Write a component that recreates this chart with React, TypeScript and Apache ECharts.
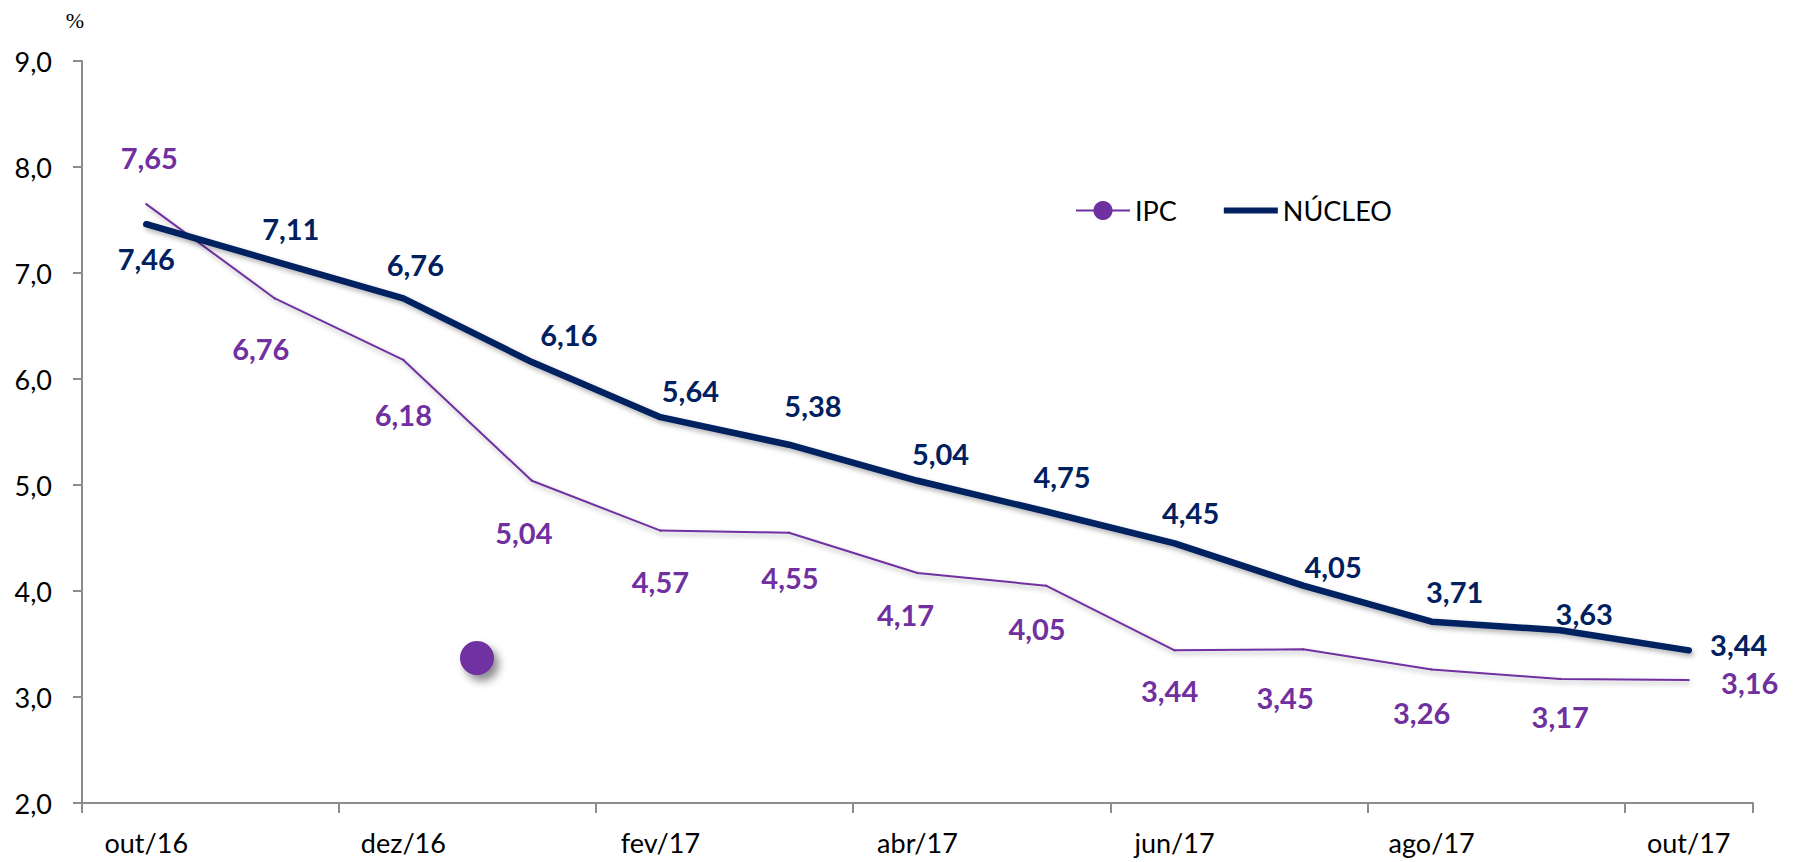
import React, { useEffect, useRef } from 'react';
import * as echarts from 'echarts';

const categories = ['out/16', 'nov/16', 'dez/16', 'jan/17', 'fev/17', 'mar/17', 'abr/17', 'mai/17', 'jun/17', 'jul/17', 'ago/17', 'set/17', 'out/17'];
const ipcValues = [7.65, 6.76, 6.18, 5.04, 4.57, 4.55, 4.17, 4.05, 3.44, 3.45, 3.26, 3.17, 3.16];
const nucleoValues = [7.46, 7.11, 6.76, 6.16, 5.64, 5.38, 5.04, 4.75, 4.45, 4.05, 3.71, 3.63, 3.44];
const yMin = 2;
const yMax = 9;
const yStep = 1;

// label placement (pixel offsets of each value label from its point)
const ipcLabelOffsets = [[3, -47], [-14, 50], [0, 55], [-8, 52], [0, 51], [1, 45], [-12, 42], [-9, 43], [-5, 40], [-18, 48], [-10, 43], [0, 38], [61, 2]];
const nucleoLabelOffsets = [[0, 34], [16, -33], [12, -34], [37, -28], [30, -27], [24, -39], [23, -27], [16, -35], [16, -31], [30, -19], [23, -30], [24, -17], [50, -6]];

const IPC_COLOR = '#7030A0';
const NUC_COLOR = '#002060';
const AXIS_COLOR = '#8c8c8c';
const FONT = 'Lato';

const fmt = (v: number, d: number) => v.toFixed(d).replace('.', ',');

export default function App() {
  const ref = useRef<HTMLDivElement>(null);
  useEffect(() => {
    const chart = echarts.init(ref.current!, null, { renderer: 'svg' });
    const lbl = (color: string) => ({
      show: true,
      position: 'inside',
      fontFamily: FONT,
      fontWeight: 'bold',
      fontSize: 29,
      color,
      formatter: (p: any) => fmt(p.value, 2),
    });
    const shadow = { shadowColor: 'rgba(0,0,0,0.3)', shadowBlur: 5, shadowOffsetX: 2, shadowOffsetY: 3 };
    chart.setOption({
      animation: false,
      backgroundColor: '#ffffff',
      grid: { left: 82, right: 41, top: 61, bottom: 59, containLabel: false },
      legend: {
        left: 1070,
        top: 192,
        itemWidth: 54,
        itemHeight: 24,
        itemGap: 47,
        textStyle: { fontFamily: FONT, fontSize: 27, color: '#000' },
        data: [
          { name: 'IPC' },
          { name: 'NÚCLEO', icon: 'path://M0,0L56,0L56,6L0,6Z' },
        ],
      },
      xAxis: {
        type: 'category',
        data: categories,
        boundaryGap: true,
        axisLine: { lineStyle: { color: AXIS_COLOR, width: 2 } },
        axisTick: { show: true, interval: 1, length: 10, lineStyle: { color: AXIS_COLOR, width: 2 } },
        axisLabel: { interval: 1, margin: 26, fontFamily: FONT, fontSize: 27, color: '#000' },
        splitLine: { show: false },
      },
      yAxis: {
        type: 'value',
        min: yMin,
        max: yMax,
        interval: yStep,
        name: '%',
        nameLocation: 'end',
        nameGap: 30,
        nameTextStyle: { fontFamily: 'Liberation Serif', fontSize: 22, color: '#000', padding: [0, 14, 0, 0] },
        axisLine: { show: true, lineStyle: { color: AXIS_COLOR, width: 2 } },
        axisTick: { show: true, length: 9, lineStyle: { color: AXIS_COLOR, width: 2 } },
        axisLabel: { margin: 30, fontFamily: FONT, fontSize: 27, color: '#000', formatter: (v: number) => fmt(v, 1) },
        splitLine: { show: false },
      },
      series: [
        {
          name: 'IPC',
          type: 'line',
          data: ipcValues.map((v, i) => ({ value: v, label: { offset: ipcLabelOffsets[i] } })),
          symbol: 'circle',
          symbolSize: 2,
          showSymbol: true,
          itemStyle: { color: IPC_COLOR },
          lineStyle: { color: IPC_COLOR, width: 2, ...shadow },
          label: lbl(IPC_COLOR),
          z: 2,
        },
        {
          name: 'NÚCLEO',
          type: 'line',
          data: nucleoValues.map((v, i) => ({ value: v, label: { offset: nucleoLabelOffsets[i] } })),
          symbol: 'circle',
          symbolSize: 2,
          showSymbol: true,
          itemStyle: { color: NUC_COLOR },
          lineStyle: { color: NUC_COLOR, width: 6.5, cap: 'round', join: 'round', ...shadow },
          label: lbl(NUC_COLOR),
          z: 3,
        },
      ],
      graphic: [
        {
          type: 'circle',
          shape: { cx: 477, cy: 658, r: 17 },
          style: { fill: IPC_COLOR, shadowBlur: 8, shadowOffsetX: 5, shadowOffsetY: 6, shadowColor: 'rgba(0,0,0,0.45)' },
        },
      ],
    });
    return () => chart.dispose();
  }, []);
  return <div ref={ref} style={{ position: 'absolute', left: 0, top: 0, width: 1794, height: 862 }} />;
}
